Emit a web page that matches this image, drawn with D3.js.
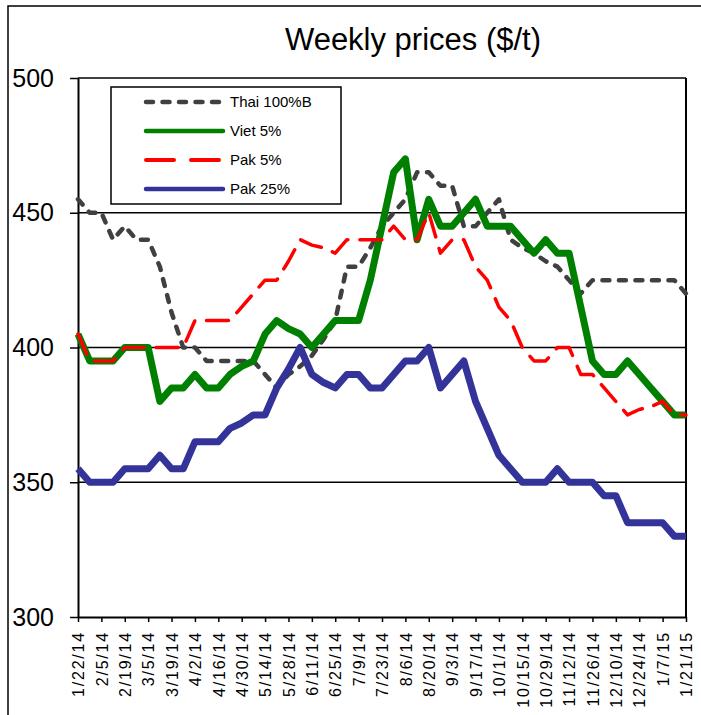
<!DOCTYPE html>
<html>
<head>
<meta charset="utf-8">
<script src="https://cdn.jsdelivr.net/npm/d3@7"></script>
<style>
  body { margin: 0; background: #fff; }
  svg text { font-family: Arial, "Liberation Sans", sans-serif; fill: #000; }
</style>
</head>
<body>
<svg id="chart" width="701" height="715"></svg>
<script>
// weekly observations, 1/22/14 .. 1/21/15
const weeks = [
  "1/22/14", "1/29/14", "2/5/14", "2/12/14", "2/19/14", "2/26/14", "3/5/14", "3/12/14",
  "3/19/14", "3/26/14", "4/2/14", "4/9/14", "4/16/14", "4/23/14", "4/30/14", "5/7/14",
  "5/14/14", "5/21/14", "5/28/14", "6/4/14", "6/11/14", "6/18/14", "6/25/14", "7/2/14",
  "7/9/14", "7/16/14", "7/23/14", "7/30/14", "8/6/14", "8/13/14", "8/20/14", "8/27/14",
  "9/3/14", "9/10/14", "9/17/14", "9/24/14", "10/1/14", "10/8/14", "10/15/14", "10/22/14",
  "10/29/14", "11/5/14", "11/12/14", "11/19/14", "11/26/14", "12/3/14", "12/10/14", "12/17/14",
  "12/24/14", "12/31/14", "1/7/15", "1/14/15", "1/21/15"
];
const tickLabels = weeks.filter((d, i) => i % 2 === 0);
const yTicks = [300, 350, 400, 450, 500];

const thai100B = [455, 450, 450, 440, 445, 440, 440, 430, 413, 400, 400, 395, 395, 395, 395, 395,
  390, 385, 390, 393, 397, 403, 410, 430, 430, 437, 445, 450, 455, 465, 465, 460,
  460, 445, 445, 450, 455, 440, 437, 435, 432, 430, 425, 420, 425, 425, 425, 425,
  425, 425, 425, 425, 420];
const viet5 = [405, 395, 395, 395, 400, 400, 400, 380, 385, 385, 390, 385, 385, 390, 393, 395,
  405, 410, 407, 405, 400, 405, 410, 410, 410, 425, 445, 465, 470, 440, 455, 445,
  445, 450, 455, 445, 445, 445, 440, 435, 440, 435, 435, 415, 395, 390, 390, 395,
  390, 385, 380, 375, 375];
const pak5 = [405, 395, 395, 395, 400, 400, 400, 400, 400, 400, 410, 410, 410, 410, 415, 420,
  425, 425, 432, 440, 438, 437, 435, 440, 440, 440, 440, 445, 440, 440, 450, 435,
  440, 440, 430, 425, 415, 410, 400, 395, 395, 400, 400, 390, 390, 385, 380, 375,
  377, 378, 380, 375, 375];
const pak25 = [355, 350, 350, 350, 355, 355, 355, 360, 355, 355, 365, 365, 365, 370, 372, 375,
  375, 385, 392, 400, 390, 387, 385, 390, 390, 385, 385, 390, 395, 395, 400, 385,
  390, 395, 380, 370, 360, 355, 350, 350, 350, 355, 350, 350, 350, 345, 345, 335,
  335, 335, 335, 330, 330];

const series = [
  { name: "Thai 100%B", values: thai100B, color: "#404040", width: 4.5, dash: "7,9.5", legendWidth: 4.5, legendDash: "7,9.5" },
  { name: "Viet 5%", values: viet5, color: "#008000", width: 7, dash: null, legendWidth: 4.5, legendDash: null },
  { name: "Pak 5%", values: pak5, color: "#ff0000", width: 3.5, dash: "22,12", legendWidth: 4, legendDash: "28,17" },
  { name: "Pak 25%", values: pak25, color: "#333399", width: 7, dash: null, legendWidth: 4.5, legendDash: null },
];

const svg = d3.select("#chart");
const plot = { left: 78, right: 686, top: 78, bottom: 617 };

const x = d3.scalePoint().domain(weeks).range([plot.left, plot.right]);
const y = d3.scaleLinear().domain([300, 500]).range([plot.bottom, plot.top]);

// outer chart border (cut off on the right and bottom)
svg.append("path")
  .attr("d", "M8,715 L8,6 L701,6")
  .attr("fill", "none")
  .attr("stroke", "#000")
  .attr("stroke-width", 1.5);

svg.append("text")
  .attr("x", 413)
  .attr("y", 50)
  .attr("text-anchor", "middle")
  .style("font-size", "31px")
  .text("Weekly prices ($/t)");

// gridlines
svg.append("g")
  .selectAll("line")
  .data(yTicks.filter((d) => d > 300))
  .join("line")
  .attr("x1", plot.left)
  .attr("x2", plot.right)
  .attr("y1", (d) => y(d))
  .attr("y2", (d) => y(d))
  .attr("stroke", "#000")
  .attr("stroke-width", 1.5);

svg.append("line")
  .attr("x1", plot.right).attr("x2", plot.right)
  .attr("y1", plot.top).attr("y2", plot.bottom)
  .attr("stroke", "#000").attr("stroke-width", 2);

const yAxis = svg.append("g")
  .attr("transform", `translate(${plot.left},0)`)
  .call(d3.axisLeft(y).tickValues(yTicks).tickSize(8).tickSizeOuter(0).tickPadding(16));
yAxis.select(".domain").attr("stroke-width", 2);
yAxis.selectAll(".tick line").attr("stroke-width", 1.5);
yAxis.selectAll("text").style("font-size", "25px").attr("font-family", null);

const xAxis = svg.append("g")
  .attr("transform", `translate(0,${plot.bottom})`)
  .call(d3.axisBottom(x).tickValues(tickLabels).tickSize(5).tickSizeOuter(0));
xAxis.select(".domain").attr("stroke-width", 2);
xAxis.selectAll(".tick line").attr("stroke-width", 1.5);
xAxis.selectAll("text")
  .attr("transform", "rotate(-90)")
  .attr("text-anchor", "end")
  .attr("x", -14)
  .attr("y", 0)
  .attr("dy", "0.36em")
  .attr("font-family", null)
  .style("font-size", "16px")
  .style("letter-spacing", "1.8px");

const line = d3.line()
  .x((d, i) => x(weeks[i]))
  .y((d) => y(d));

svg.append("g")
  .selectAll("path")
  .data(series)
  .join("path")
  .attr("d", (d) => line(d.values))
  .attr("fill", "none")
  .attr("stroke", (d) => d.color)
  .attr("stroke-width", (d) => d.width)
  .attr("stroke-dasharray", (d) => d.dash)
  .attr("stroke-linecap", (d) => (d.dash ? "round" : "butt"))
  .attr("stroke-linejoin", "round");

// legend
const legend = svg.append("g").attr("transform", "translate(111,87)");
legend.append("rect")
  .attr("width", 230)
  .attr("height", 117)
  .attr("fill", "#fff")
  .attr("stroke", "#000")
  .attr("stroke-width", 1.5);

const item = legend.selectAll(".item")
  .data(series)
  .join("g")
  .attr("class", "item")
  .attr("transform", (d, i) => `translate(0,${15 + i * 29})`);

item.append("line")
  .attr("x1", 35)
  .attr("x2", 112)
  .attr("stroke", (d) => d.color)
  .attr("stroke-width", (d) => d.legendWidth)
  .attr("stroke-dasharray", (d) => d.legendDash)
  .attr("stroke-linecap", "round");

item.append("text")
  .attr("x", 119)
  .attr("dy", "0.36em")
  .style("font-size", "15px")
  .text((d) => d.name);
</script>
</body>
</html>
